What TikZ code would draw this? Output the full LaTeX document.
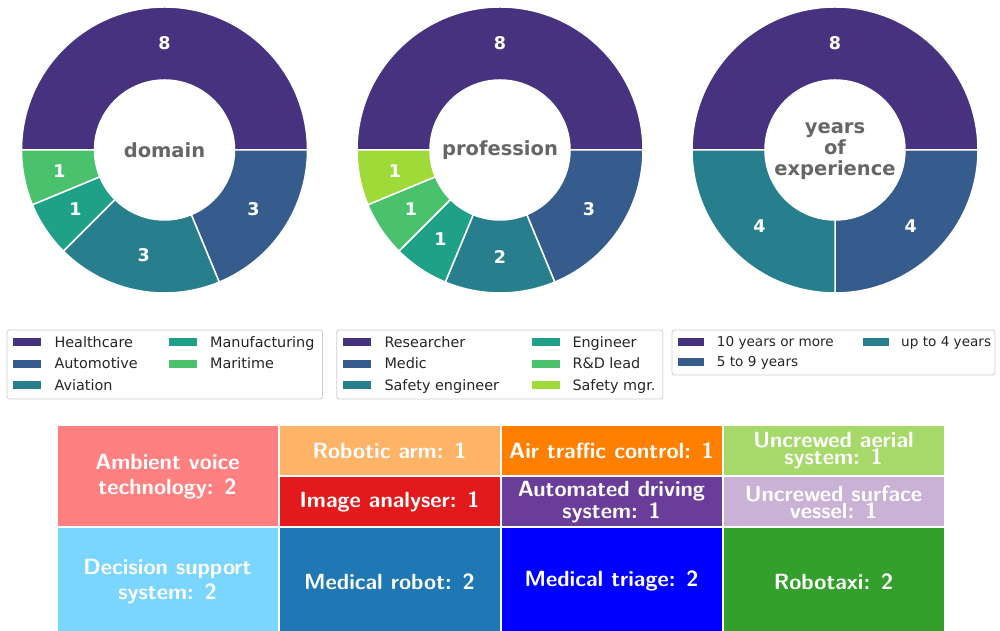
\documentclass[tikz,border=0pt]{standalone}
\usepackage{fontspec}
\setmainfont{DejaVu Sans}
\usepackage{tikz}

\definecolor{vA}{HTML}{46327E}
\definecolor{vB}{HTML}{365C8D}
\definecolor{vC}{HTML}{277F8E}
\definecolor{vD}{HTML}{1FA187}
\definecolor{vE}{HTML}{4AC16D}
\definecolor{vF}{HTML}{A0DA39}
\definecolor{tmSalmon}{HTML}{FF8080}
\definecolor{tmApricot}{HTML}{FFB366}
\definecolor{tmRed}{HTML}{E31A1C}
\definecolor{tmOrange}{HTML}{FF7F00}
\definecolor{tmPurple}{HTML}{6A3D9A}
\definecolor{tmLime}{HTML}{A6D96A}
\definecolor{tmLilac}{HTML}{CAB2D6}
\definecolor{tmSky}{HTML}{7AD5FF}
\definecolor{tmBlue}{HTML}{1F78B4}
\definecolor{tmPure}{HTML}{0000FF}
\definecolor{tmGreen}{HTML}{33A02C}

\begin{document}
\begin{tikzpicture}[x=1pt,y=1pt]
	\tikzstyle{wedge}=[draw=white, line width=1.5pt, line join=round]
	\tikzstyle{count}=[text=white, inner sep=0pt, font=\fontsize{17.5}{20}\selectfont\bfseries]
	\tikzstyle{hole}=[text=black!60, inner sep=0pt, align=center, font=\fontsize{19.5}{21}\selectfont\bfseries]
	\tikzstyle{legbox}=[draw=black!20, line width=0.8pt, rounded corners=2.5pt, fill=white]
	\tikzstyle{swatch}=[minimum width=28pt, minimum height=8pt, inner sep=0pt]
	\tikzstyle{entry}=[anchor=base west, inner sep=0pt, yshift=-5.2pt, text=black!85, font=\fontsize{14.4}{16}\selectfont]
	\tikzstyle{cell}=[draw=white, line width=2pt, anchor=south west, inner sep=0pt, minimum width=222pt, text=white, align=center, font=\sffamily\bfseries\fontsize{22}{25}\selectfont]
	\tikzstyle{tight}=[font=\sffamily\bfseries\fontsize{22}{17}\selectfont]
	\useasboundingbox (0,0) rectangle (1000,631);

	% domain
	\begin{scope}[shift={(164.5,481)}]
		\foreach \a/\b/\c in {180/0/vA, 0/-67.5/vB, -67.5/-135/vC, -135/-157.5/vD, -157.5/-180/vE}
			\filldraw[wedge, fill=\c] (\a:143) arc[start angle=\a, end angle=\b, radius=143] -- (\b:70) arc[start angle=\b, end angle=\a, radius=70] -- cycle;
		\foreach \m/\v [count=\i] in {90/8, -33.75/3, -101.25/3, -146.25/1, -168.75/1}
			\node[count] (dom\i) at (\m:107) {\v};
		\node[hole] (domain) at (0,0) {domain};
	\end{scope}

	% profession
	\begin{scope}[shift={(500,481)}]
		\foreach \a/\b/\c in {180/0/vA, 0/-67.5/vB, -67.5/-112.5/vC, -112.5/-135/vD, -135/-157.5/vE, -157.5/-180/vF}
			\filldraw[wedge, fill=\c] (\a:143) arc[start angle=\a, end angle=\b, radius=143] -- (\b:70) arc[start angle=\b, end angle=\a, radius=70] -- cycle;
		\foreach \m/\v [count=\i] in {90/8, -33.75/3, -90/2, -123.75/1, -146.25/1, -168.75/1}
			\node[count] (pro\i) at (\m:107) {\v};
		\node[hole] (profession) at (0,0) {profession};
	\end{scope}

	% years of experience
	\begin{scope}[shift={(835,481)}]
		\foreach \a/\b/\c in {180/0/vA, 0/-90/vB, -90/-180/vC}
			\filldraw[wedge, fill=\c] (\a:143) arc[start angle=\a, end angle=\b, radius=143] -- (\b:70) arc[start angle=\b, end angle=\a, radius=70] -- cycle;
		\foreach \m/\v [count=\i] in {90/8, -45/4, -135/4}
			\node[count] (exp\i) at (\m:107) {\v};
		\node[hole] (experience) at (0,-1) {years\\of\\experience};
	\end{scope}

	% legends
	\draw[legbox] (7,232) rectangle (322.5,301);
	\foreach \y/\c/\t [count=\i] in {289/vA/Healthcare, 267.3/vB/Automotive, 245.7/vC/Aviation}{
		\node[swatch, fill=\c] (domS\i) at (27.2,\y) {};
		\node[entry] (domT\i) at (54.3,\y) {\t};
	}
	\foreach \y/\c/\t [count=\i] in {289/vD/Manufacturing, 267.3/vE/Maritime}{
		\node[swatch, fill=\c] (domU\i) at (183.3,\y) {};
		\node[entry] (domV\i) at (210,\y) {\t};
	}

	\draw[legbox] (336.7,232) rectangle (662.7,301);
	\foreach \y/\c/\t [count=\i] in {289/vA/Researcher, 267.3/vB/Medic, 245.7/vC/Safety engineer}{
		\node[swatch, fill=\c] (proS\i) at (357.2,\y) {};
		\node[entry] (proT\i) at (384.3,\y) {\t};
	}
	\foreach \y/\c/\t [count=\i] in {289/vD/Engineer, 267.3/vE/R\&D lead, 245.7/vF/Safety mgr.}{
		\node[swatch, fill=\c] (proU\i) at (545.5,\y) {};
		\node[entry] (proV\i) at (572.3,\y) {\t};
	}

	\draw[legbox] (672,256) rectangle (995,301);
	\node[swatch, minimum width=26pt, fill=vA] (expS1) at (691.3,289.3) {};
	\node[entry, font=\fontsize{13.6}{15}\selectfont] (expT1) at (716.7,289.3) {10 years or more};
	\node[swatch, minimum width=26pt, fill=vB] (expS2) at (691.3,269.3) {};
	\node[entry, font=\fontsize{13.6}{15}\selectfont] (expT2) at (716.7,269.3) {5 to 9 years};
	\node[swatch, minimum width=26pt, fill=vC] (expU1) at (875.8,289.3) {};
	\node[entry, font=\fontsize{13.6}{15}\selectfont] (expV1) at (901,289.3) {up to 4 years};

	% treemap
	\node[cell, fill=tmSalmon, minimum height=102pt] (ambient) at (55.5,102.5) {Ambient voice\\technology: 2};
	\node[cell, fill=tmApricot, minimum height=51pt] (arm) at (277.5,153.5) {Robotic arm: 1};
	\node[cell, fill=tmRed, minimum height=51pt] (image) at (277.5,102.5) {Image analyser: 1};
	\node[cell, fill=tmOrange, minimum height=51pt] (atc) at (499.5,153.5) {Air traffic control: 1};
	\node[cell, tight, fill=tmPurple, minimum height=51pt] (ads) at (499.5,102.5) {Automated driving\\system: 1};
	\node[cell, tight, fill=tmLime, minimum height=51pt] (uas) at (721.5,153.5) {Uncrewed aerial\\system: 1};
	\node[cell, tight, fill=tmLilac, minimum height=51pt] (usv) at (721.5,102.5) {Uncrewed surface\\vessel: 1};
	\node[cell, fill=tmSky, minimum height=107.5pt] (dss) at (55.5,-5) {Decision support\\system: 2};
	\node[cell, fill=tmBlue, minimum height=107.5pt] (robot) at (277.5,-5) {Medical robot: 2};
	\node[cell, fill=tmPure, minimum height=107.5pt] (triage) at (499.5,-5) {Medical triage: 2};
	\node[cell, fill=tmGreen, minimum height=107.5pt] (robotaxi) at (721.5,-5) {Robotaxi: 2};
\end{tikzpicture}
\end{document}
